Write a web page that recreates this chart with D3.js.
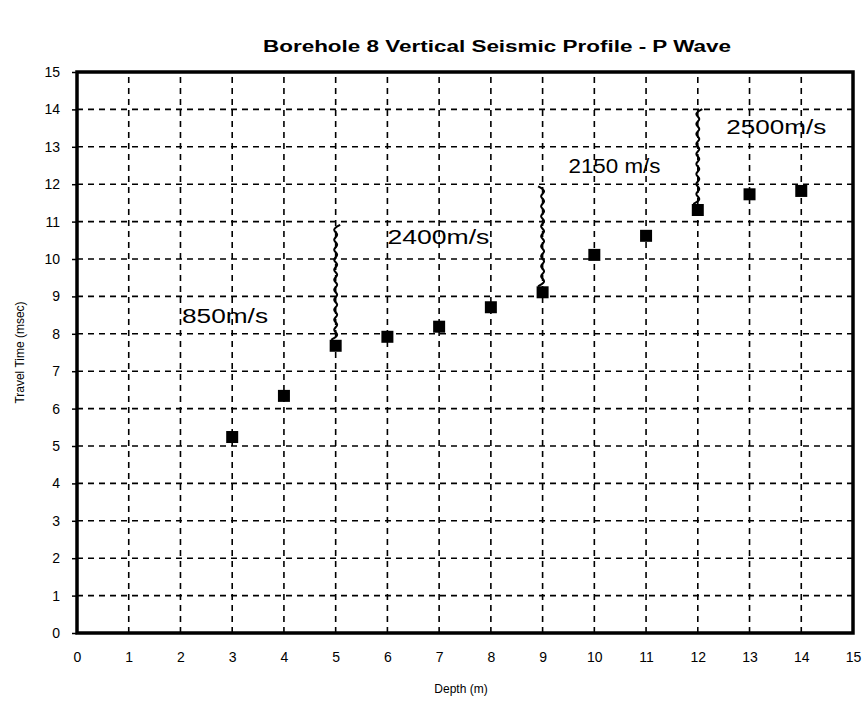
<!DOCTYPE html>
<html>
<head>
<meta charset="utf-8">
<script src="https://cdn.jsdelivr.net/npm/d3@7"></script>
<style>
  body { margin: 0; background: #fff; }
  svg { display: block; font-family: "Liberation Sans", Arial, sans-serif; }
</style>
</head>
<body>
<svg id="chart" width="866" height="702"></svg>
<script>
// data
const depth = [3, 4, 5, 6, 7, 8, 9, 10, 11, 12, 13, 14];
const travelTime = [5.24, 6.34, 7.68, 7.92, 8.19, 8.71, 9.11, 10.11, 10.62, 11.31, 11.73, 11.82];
const xTicks = d3.range(0, 16);
const yTicks = d3.range(0, 16);

// velocity break markers (depth, from time, to time) and their labels
const breakDepth = [5, 9, 12];
const breakFrom = [7.68, 9.11, 11.31];
const breakTo = [11.0, 12.0, 14.05];
const velLabels = ["850m/s", "2400m/s", "2150 m/s", "2500m/s"];
const velLabelX = [2.03, 6.0, 9.5, 12.55];
const velLabelY = [8.3, 10.4, 12.3, 13.35];

const svg = d3.select("#chart");
const mLeft = 77, mRight = 853, mTop = 72, mBottom = 633;

const x = d3.scaleLinear().domain([0, 15]).range([mLeft, mRight]);
const y = d3.scaleLinear().domain([0, 15]).range([mBottom, mTop]);

// title
svg.append("text")
  .attr("x", 497).attr("y", 52)
  .attr("text-anchor", "middle")
  .attr("font-size", 16).attr("font-weight", "bold")
  .attr("textLength", 468).attr("lengthAdjust", "spacingAndGlyphs")
  .text("Borehole 8 Vertical Seismic Profile - P Wave");

// grid
const grid = svg.append("g").attr("stroke", "#000").attr("stroke-width", 1.6)
  .attr("stroke-dasharray", "6,5");
grid.selectAll(".gx").data(xTicks.slice(1, -1)).join("line")
  .attr("x1", d => x(d)).attr("x2", d => x(d))
  .attr("y1", mBottom).attr("y2", mTop);
grid.selectAll(".gy").data(yTicks.slice(1, -1)).join("line")
  .attr("y1", d => y(d)).attr("y2", d => y(d))
  .attr("x1", mLeft).attr("x2", mRight);

// axes
const xAxis = svg.append("g")
  .attr("transform", `translate(0,${mBottom})`)
  .call(d3.axisBottom(x).tickValues(xTicks).tickSize(0).tickPadding(19));
const yAxis = svg.append("g")
  .attr("transform", `translate(${mLeft},0)`)
  .call(d3.axisLeft(y).tickValues(yTicks).tickSize(5).tickPadding(12));
[xAxis, yAxis].forEach(a => {
  a.select(".domain").remove();
  a.selectAll("text").attr("font-size", 14).attr("fill", "#000")
    .attr("font-family", "'Liberation Sans', Arial, sans-serif");
  a.selectAll("line").attr("stroke", "#000").attr("stroke-width", 1.5);
});

// frame
svg.append("rect")
  .attr("x", mLeft).attr("y", mTop)
  .attr("width", mRight - mLeft).attr("height", mBottom - mTop)
  .attr("fill", "none").attr("stroke", "#000").attr("stroke-width", 3.5);

// axis titles
svg.append("text")
  .attr("x", 461).attr("y", 693)
  .attr("text-anchor", "middle").attr("font-size", 12)
  .text("Depth (m)");
svg.append("text")
  .attr("transform", `translate(24,${(mTop + mBottom) / 2}) rotate(-90)`)
  .attr("text-anchor", "middle").attr("font-size", 12)
  .text("Travel Time (msec)");

// wavy break lines
const wave = d3.line().curve(d3.curveBasis);
breakDepth.forEach((d, i) => {
  const y0 = y(breakFrom[i]) - 6, y1 = y(breakTo[i]);
  const pts = [];
  let k = 0;
  for (let py = y0; py >= y1; py -= 5, k++) {
    pts.push([x(d) + (k % 2 ? 4.5 : -4.5), py]);
  }
  svg.append("path")
    .attr("d", wave(pts))
    .attr("fill", "none").attr("stroke", "#000").attr("stroke-width", 2);
});

// velocity labels
const labelW = [86, 102, 92, 100];
svg.selectAll(".vel").data(velLabels).join("text")
  .attr("x", (d, i) => x(velLabelX[i]))
  .attr("y", (d, i) => y(velLabelY[i]))
  .attr("font-size", 20)
  .attr("textLength", (d, i) => labelW[i]).attr("lengthAdjust", "spacingAndGlyphs")
  .text(d => d);

// points
const s = 12;
svg.selectAll(".pt").data(depth).join("rect")
  .attr("x", d => x(d) - s / 2)
  .attr("y", (d, i) => y(travelTime[i]) - s / 2)
  .attr("width", s).attr("height", s)
  .attr("fill", "#000");
</script>
</body>
</html>
